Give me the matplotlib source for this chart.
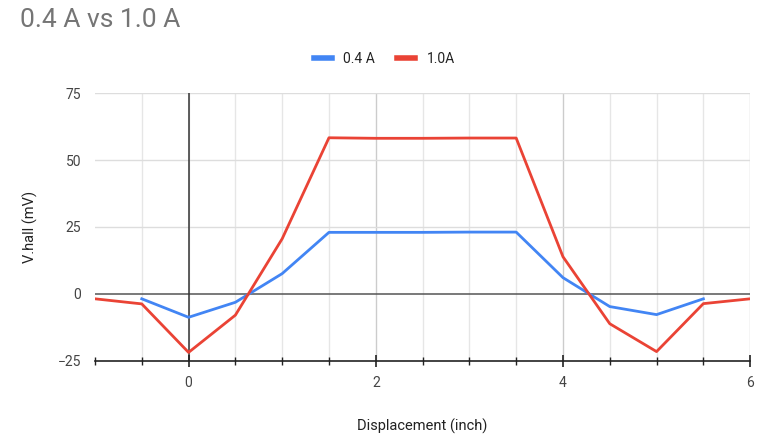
import matplotlib.pyplot as plt
import numpy as np

plt.rcParams['font.family'] = ['Roboto', 'DejaVu Sans']

# data
disp_red = [-1, -0.5, 0, 0.5, 1, 1.5, 2, 2.5, 3, 3.5, 4, 4.5, 5, 5.5, 6]
vhall_10 = [-1.8, -3.7, -21.8, -7.9, 20.6, 58.3, 58.1, 58.1, 58.2, 58.2, 13.9, -11.1, -21.5, -3.6, -1.8]
disp_blue = [-0.5, 0, 0.5, 1, 1.5, 2, 2.5, 3, 3.5, 4, 4.5, 5, 5.5]
vhall_04 = [-1.8, -8.7, -3.1, 7.6, 23.0, 23.0, 23.0, 23.1, 23.1, 6.1, -4.7, -7.7, -1.8]

xticks = [0, 2, 4, 6]
yticks = [-25, 0, 25, 50, 75]

fig = plt.figure(figsize=(7.69, 4.44), dpi=100)
ax = fig.add_axes([0.1235, 0.187, 0.852, 0.6035])

# gridlines
for x in np.arange(-0.5, 6.01, 0.5):
    c = '#cccccc' if x in (2, 4, 6) else '#e6e6e6'
    ax.axvline(x, color=c, lw=1, zorder=0)
for y in (25, 50, 75):
    ax.axhline(y, color='#dddddd', lw=1, zorder=0)
ax.axhline(0, color='#555555', lw=1.1, zorder=1)
ax.axvline(0, color='#333333', lw=1.1, zorder=1)

ax.plot(disp_blue, vhall_04, color='#4285F4', lw=2, label='0.4 A', zorder=3)
ax.plot(disp_red, vhall_10, color='#EA4335', lw=2, label='1.0A', zorder=3)

ax.set_xlim(-1, 6)
ax.set_ylim(-25, 75)
for s in ('top', 'right', 'left'):
    ax.spines[s].set_visible(False)
ax.spines['bottom'].set_color('#222222')
ax.spines['bottom'].set_linewidth(1.2)

ax.set_xticks(xticks)
ax.set_xticks(np.arange(-1, 6.01, 0.5), minor=True)
ax.tick_params(axis='x', which='major', direction='inout', length=9, width=1.2, color='#222222',
               labelsize=10, labelcolor='#444444', pad=6)
ax.tick_params(axis='x', which='minor', direction='inout', length=6, width=1, color='#222222')
ax.set_yticks(yticks)
ax.tick_params(axis='y', length=0, labelsize=10, labelcolor='#444444', pad=10)

ax.set_xlabel('Displacement (inch)', fontsize=10.5, color='#222222', labelpad=21)
ax.set_ylabel('V.hall (mV)', fontsize=10.5, color='#222222', labelpad=14)

fig.text(0.026, 0.955, '0.4 A vs 1.0 A', fontsize=19, color='#757575', va='center', ha='left')

leg = fig.legend(loc='center', bbox_to_anchor=(0.5, 0.868), ncol=2, frameon=False,
                 fontsize=10, handlelength=1.3, handleheight=0.5, columnspacing=1.6,
                 handletextpad=0.8)
for h in leg.get_lines():
    h.set_linewidth(4)
for t in leg.get_texts():
    t.set_color('#222222')

fig.savefig('out.png', dpi=100)
